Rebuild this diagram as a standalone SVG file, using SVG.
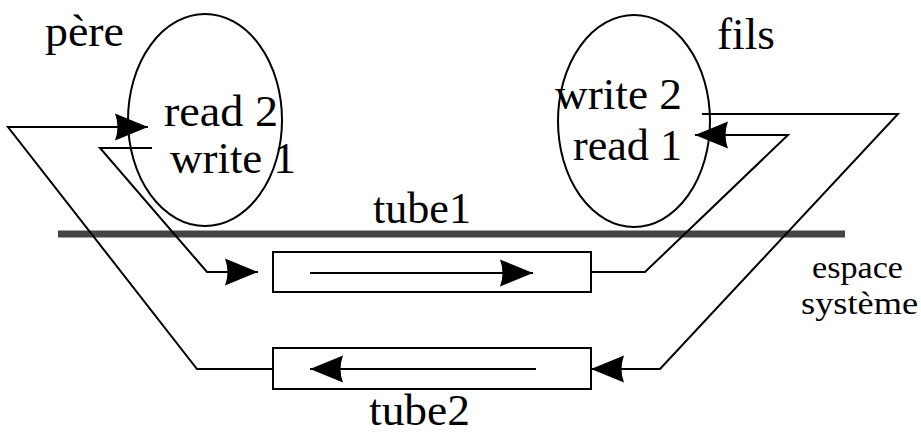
<svg xmlns="http://www.w3.org/2000/svg" width="921" height="435" viewBox="0 0 921 435">
<style>
.t{font-family:"Liberation Serif","Times New Roman",serif;font-size:44px;fill:#000}
.s{font-family:"Liberation Serif","Times New Roman",serif;font-size:32px;fill:#000}
.ln{fill:none;stroke:#000;stroke-width:2}
</style>
<defs>
<marker id="ah" markerUnits="userSpaceOnUse" viewBox="-36 -16 38 32" markerWidth="38" markerHeight="32" refX="0" refY="0" orient="auto">
<path d="M0,0 L-33,-13.5 Q-28,0 -33,13.5 Z" fill="#000"/>
</marker>
</defs>
<rect width="921" height="435" fill="#fff"/>
<g id="pere">
<ellipse class="ln" cx="205" cy="120" rx="77" ry="106"/>
<text class="t" x="45" y="46" textLength="79" lengthAdjust="spacingAndGlyphs">père</text>
<text class="t" x="164" y="126" textLength="114" lengthAdjust="spacingAndGlyphs">read 2</text>
<text class="t" x="170" y="173" textLength="126" lengthAdjust="spacingAndGlyphs">write 1</text>
</g>
<g id="fils">
<ellipse class="ln" cx="634" cy="121" rx="76" ry="106"/>
<text class="t" x="717" y="49" textLength="58" lengthAdjust="spacingAndGlyphs">fils</text>
<text class="t" x="555" y="109" textLength="127" lengthAdjust="spacingAndGlyphs">write 2</text>
<text class="t" x="573" y="160" textLength="109" lengthAdjust="spacingAndGlyphs">read 1</text>
</g>
<g id="systeme">
<line x1="58" y1="234" x2="845" y2="234" stroke="#444" stroke-width="7"/>
<text class="s" x="812" y="278" textLength="91" lengthAdjust="spacingAndGlyphs">espace</text>
<text class="s" x="801" y="314" textLength="117" lengthAdjust="spacingAndGlyphs">système</text>
</g>
<g id="tube1">
<rect class="ln" x="273" y="252" width="318" height="40"/>
<line class="ln" x1="310" y1="273" x2="533" y2="273" marker-end="url(#ah)"/>
<text class="t" x="373" y="223" textLength="98" lengthAdjust="spacingAndGlyphs">tube1</text>
</g>
<g id="tube2">
<rect class="ln" x="273" y="348" width="318" height="41"/>
<line class="ln" x1="536" y1="369" x2="310" y2="369" marker-end="url(#ah)"/>
<text class="t" x="369" y="425" textLength="101" lengthAdjust="spacingAndGlyphs">tube2</text>
</g>
<g id="connectors">
<path class="ln" d="M152,148 H100 L207,272 H258" marker-end="url(#ah)"/>
<path class="ln" d="M273,369 H197 L8,127 H148" marker-end="url(#ah)"/>
<path class="ln" d="M702,114 H898 L660,369 H591" marker-end="url(#ah)"/>
<path class="ln" d="M591,272 H645 L788,135 H695" marker-end="url(#ah)"/>
</g>
</svg>
